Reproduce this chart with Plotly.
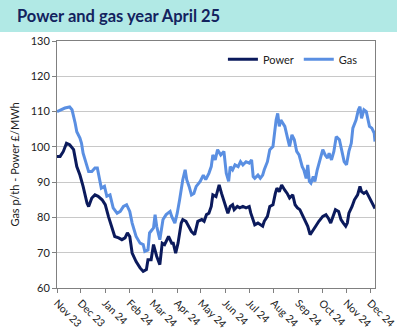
import pandas as pd
import plotly.graph_objects as go

# Series start date; observations are stored as day offsets from it
START = pd.Timestamp("2023-11-01")

power_days = [0, 4, 8, 12, 16, 21, 25, 29, 33, 38, 40, 44, 48, 52, 57, 61, 65, 69, 73, 78, 82, 86, 89, 92, 95,
              100, 105, 109, 113, 115, 119, 122, 126, 130, 133, 136, 141, 145, 147, 150, 153, 157, 159, 163, 166,
              170, 174, 178, 183, 186, 189, 192, 195, 197,
              201, 205, 208, 212, 216, 219, 222, 224, 228, 231, 235, 239, 243, 245, 248, 250, 254, 257, 260, 262,
              266, 269, 273, 276, 278, 281, 284, 288, 291, 294,
              298, 301, 304, 307, 310, 312, 315, 317, 320, 323, 327, 331, 334, 336, 340, 343, 346, 349, 352, 356,
              359, 362, 365, 367, 369, 373, 376, 380, 383, 385, 388, 391, 395, 398, 401, 402]
power_values = [97.3, 97.3, 98.7, 101.0, 100.6, 99.2, 94.4, 92.0, 88.8, 84.0, 83.1, 85.5, 86.4, 86.0, 85.0, 83.6,
                80.3, 77.5, 74.6, 74.2, 73.7, 74.2, 75.6, 74.6, 69.9,
                67.5, 65.7, 64.7, 65.2, 68.0, 68.0, 72.3, 69.0, 66.6, 72.7, 72.3, 74.6, 72.7, 72.7, 69.9, 72.7,
                78.4, 79.4, 78.9, 77.5, 76.0, 75.1, 78.9, 79.4, 78.9, 80.8, 81.2, 83.1, 86.4,
                85.9, 89.2, 86.8, 84.0, 81.2, 83.1, 83.6, 82.2, 83.1, 82.7, 83.1, 82.7, 83.1, 81.2, 78.9, 77.9,
                78.4, 77.9, 77.5, 78.9, 80.3, 83.1, 83.6, 86.8, 88.3, 87.3, 89.2, 87.7, 86.8, 85.5,
                86.4, 83.6, 82.7, 82.2, 80.8, 79.8, 78.4, 77.5, 75.1, 76.0, 77.5, 78.9, 79.8, 80.3, 80.8, 79.8,
                78.4, 80.3, 82.2, 81.7, 79.4, 78.4, 77.5, 78.4, 81.2, 83.1, 85.0, 86.4, 88.8, 87.3, 86.8, 87.3,
                85.5, 84.0, 83.1, 82.5]

gas_days = [0, 2, 6, 10, 16, 19, 23, 25, 29, 31, 33, 38, 40, 44, 48, 51, 54, 56, 60, 63, 67, 71, 76, 80, 84, 88,
            92, 95,
            100, 105, 109, 111, 115, 117, 122, 124, 126, 130, 134, 138, 143, 145, 149, 152, 155, 159, 162, 164,
            167, 170, 173, 176, 181, 185, 188, 192, 195, 197,
            200, 203, 207, 211, 214, 217, 219, 222, 225, 229, 232, 235, 239, 243, 246, 248, 250, 254, 257, 260,
            262, 266, 269, 273, 275, 277, 279, 281, 283, 285, 288, 292, 294,
            297, 300, 303, 306, 310, 312, 315, 317, 319, 321, 324, 326, 329, 332, 336, 339, 342, 344, 347, 350,
            353, 357, 360, 363, 366, 369, 372, 374, 378, 381, 383, 385, 388, 391, 395, 398, 401, 402]
gas_values = [110.0, 110.2, 110.5, 111.0, 111.3, 110.5, 106.7, 104.3, 102.5, 101.0, 98.2, 94.4, 93.0, 93.0, 94.0,
              94.0, 90.7, 88.3, 88.8, 86.0, 86.4, 82.7, 81.2, 81.7, 83.1, 83.6, 81.7, 78.4,
              74.6, 72.7, 72.3, 70.4, 70.8, 75.6, 77.0, 80.8, 77.5, 73.7, 79.4, 80.8, 81.7, 80.3, 78.4, 81.2,
              85.0, 90.7, 93.5, 90.7, 88.8, 86.4, 86.8, 88.8, 90.2, 92.0, 90.7, 92.5, 94.4, 97.7,
              96.3, 99.2, 97.7, 98.7, 92.5, 90.2, 94.4, 93.5, 94.9, 94.4, 95.8, 94.9, 95.8, 95.4, 96.3, 91.6,
              91.1, 92.0, 91.1, 92.0, 93.5, 95.8, 99.2, 100.1, 103.9, 107.6, 109.5, 105.8, 107.6, 106.7, 105.8,
              102.0, 100.1,
              103.4, 102.0, 98.7, 97.7, 94.4, 93.5, 91.1, 94.9, 90.2, 89.7, 91.6, 90.2, 93.5, 96.3, 99.2, 97.7,
              96.8, 98.2, 96.3, 98.7, 102.9, 102.0, 98.7, 95.8, 94.9, 98.7, 101.0, 105.3, 107.6, 110.5, 111.4,
              108.1, 110.5, 110.0, 105.8, 105.3, 103.9, 101.5]

series_names = ["Power", "Gas"]
series_colors = ["#0b1a5c", "#5a8fe2"]

Y_RANGE = [60, 130]
X_END = START + pd.Timedelta(days=402)


def to_dates(days):
    return START + pd.to_timedelta(days, unit="D")


W, H = 397, 331
ML, MR, MT, MB = 57, 22, 41, 43
PW, PH = W - ML - MR, H - MT - MB

fig = go.Figure()
for name, color, days, vals in [
    (series_names[0], series_colors[0], power_days, power_values),
    (series_names[1], series_colors[1], gas_days, gas_values),
]:
    fig.add_trace(go.Scatter(
        x=to_dates(days), y=vals, mode="lines", name=name,
        line=dict(color=color, width=3),
    ))

FONT = "Lato, 'Open Sans', sans-serif"

# Header band across the top of the page
band_bottom_px = 32
fig.add_shape(
    type="rect", xref="paper", yref="paper", layer="below",
    x0=-ML / PW, x1=(W - ML) / PW,
    y0=1 + (MT - band_bottom_px) / PH, y1=1 + MT / PH,
    fillcolor="#b1e9e5", line=dict(width=0),
)
fig.add_annotation(
    text="<b>Power and gas year April 25</b>", xref="paper", yref="paper",
    x=(15 - ML) / PW, y=1 + (MT - 16) / PH, xanchor="left", yanchor="middle",
    showarrow=False, font=dict(family=FONT, size=16.5, color="#13235e"),
)

fig.update_layout(
    width=W, height=H,
    margin=dict(l=ML, r=MR, t=MT, b=MB, autoexpand=False),
    paper_bgcolor="white", plot_bgcolor="white",
    font=dict(family=FONT, size=11, color="#222222"),
    showlegend=True,
    legend=dict(
        orientation="h", x=0.962, xanchor="right", y=0.985, yanchor="top",
        bgcolor="rgba(0,0,0,0)", font=dict(size=11, color="#222222"),
        itemwidth=30, tracegroupgap=0,
    ),
)

fig.update_xaxes(
    type="date", range=[START, X_END], automargin=False,
    tick0=START, dtick="M1", tickformat="%b %y", tickangle=45,
    ticklabeloverflow="allow",
    ticks="outside", ticklen=4, tickcolor="#808080",
    showline=True, linecolor="#808080", linewidth=1, mirror=True,
    showgrid=False, zeroline=False,
    tickfont=dict(size=10.5, color="#222222"),
)
fig.update_yaxes(
    range=Y_RANGE, dtick=10, automargin=False,
    ticks="outside", ticklen=4, tickcolor="#808080",
    showline=True, linecolor="#808080", linewidth=1, mirror=True,
    showgrid=True, gridcolor="#c8c8c8", gridwidth=1, zeroline=False,
    tickfont=dict(size=11, color="#222222"),
    title=dict(text="Gas p/th - Power £/MWh", font=dict(size=11, color="#222222"), standoff=8),
)

fig.write_html("out.html")
